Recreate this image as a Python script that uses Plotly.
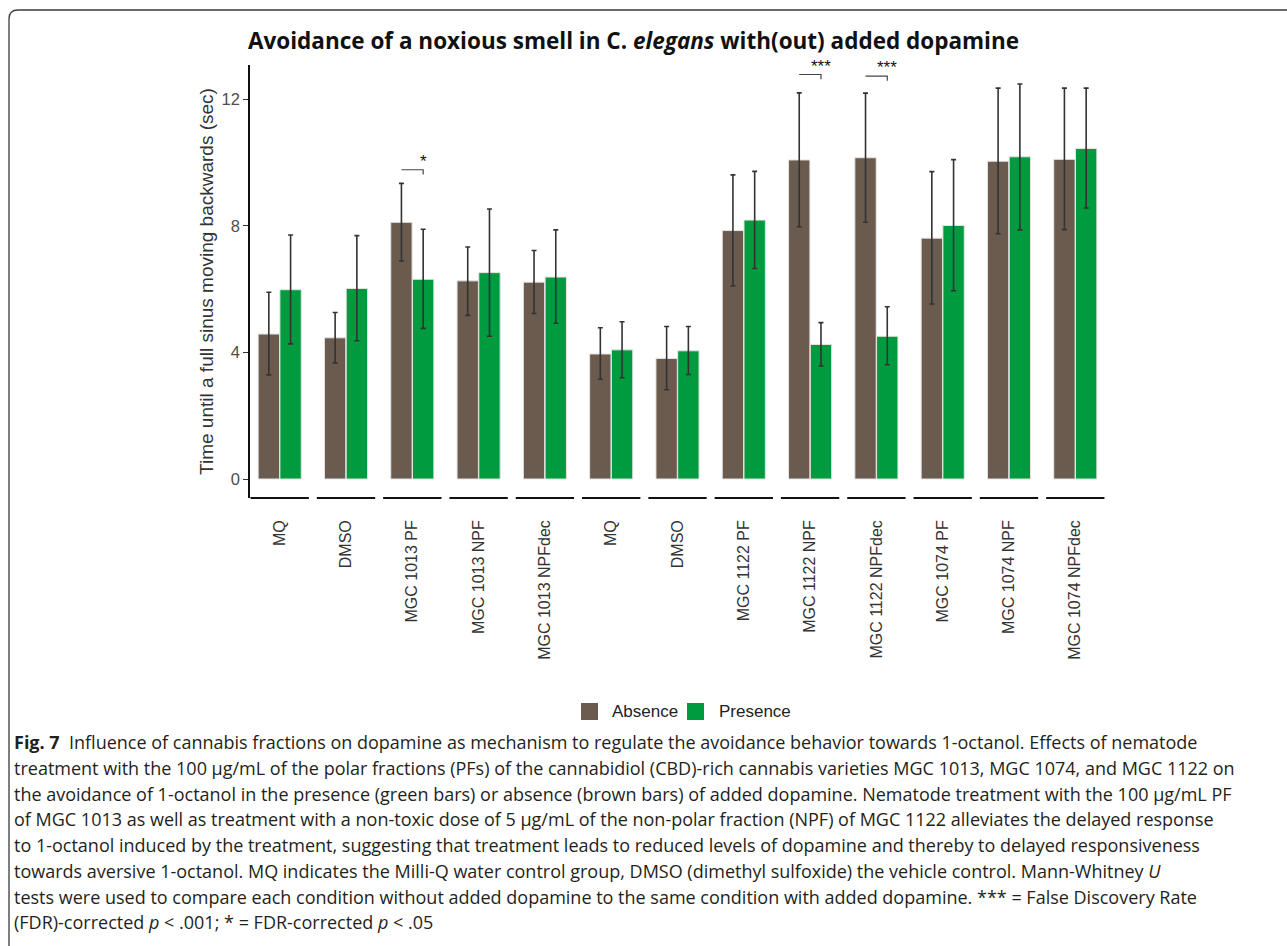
import numpy as np
import plotly.graph_objects as go

# ---- data -------------------------------------------------------------
categories = ["MQ", "DMSO", "MGC 1013 PF", "MGC 1013 NPF", "MGC 1013 NPFdec",
              "MQ", "DMSO", "MGC 1122 PF", "MGC 1122 NPF", "MGC 1122 NPFdec",
              "MGC 1074 PF", "MGC 1074 NPF", "MGC 1074 NPFdec"]

absence_mean = [4.58, 4.46, 8.11, 6.26, 6.22, 3.95, 3.81, 7.85, 10.08, 10.15, 7.61, 10.04, 10.10]
absence_upper = [5.90, 5.26, 9.34, 7.33, 7.22, 4.78, 4.82, 9.61, 12.20, 12.19, 9.71, 12.35, 12.35]
absence_lower = [3.29, 3.67, 6.89, 5.17, 5.23, 3.15, 2.82, 6.10, 7.97, 8.11, 5.53, 7.75, 7.88]

presence_mean = [5.98, 6.02, 6.31, 6.52, 6.38, 4.08, 4.05, 8.18, 4.25, 4.51, 8.01, 10.18, 10.44]
presence_upper = [7.71, 7.69, 7.89, 8.53, 7.87, 4.97, 4.82, 9.72, 4.94, 5.44, 10.09, 12.48, 12.35]
presence_lower = [4.27, 4.37, 4.76, 4.51, 4.92, 3.20, 3.30, 6.65, 3.57, 3.61, 5.95, 7.87, 8.56]

# significance brackets: group index, bracket height, label
sig_groups = [2, 8, 9]
sig_heights = [9.77, 12.78, 12.73]
sig_labels = ["*", "***", "***"]

y_ticks = [0, 4, 8, 12]

caption_lines = [
    "<b>Fig. 7</b>\u00a0\u00a0Influence of cannabis fractions on dopamine as mechanism to regulate the avoidance behavior towards 1-octanol. Effects of nematode",
    "treatment with the 100 µg/mL of the polar fractions (PFs) of the cannabidiol (CBD)-rich cannabis varieties MGC 1013, MGC 1074, and MGC 1122 on",
    "the avoidance of 1-octanol in the presence (green bars) or absence (brown bars) of added dopamine. Nematode treatment with the 100 µg/mL PF",
    "of MGC 1013 as well as treatment with a non-toxic dose of 5 µg/mL of the non-polar fraction (NPF) of MGC 1122 alleviates the delayed response",
    "to 1-octanol induced by the treatment, suggesting that treatment leads to reduced levels of dopamine and thereby to delayed responsiveness",
    "towards aversive 1-octanol. MQ indicates the Milli-Q water control group, DMSO (dimethyl sulfoxide) the vehicle control. Mann-Whitney <i>U</i>",
    "tests were used to compare each condition without added dopamine to the same condition with added dopamine. *** = False Discovery Rate",
    "(FDR)-corrected <i>p</i> &lt; .001; * = FDR-corrected <i>p</i> &lt; .05",
]

# ---- styling ----------------------------------------------------------
BROWN = "#6b5b4e"
GREEN = "#009b3e"
AXIS_FONT = "Liberation Sans, Arial, sans-serif"
TEXT_FONT = "Open Sans, Lato, sans-serif"

W, H = 1287, 946
L, R, T, B = 250, 182, 65, 448
PW, PH = W - L - R, H - T - B


def px_x(px):
    return (px - L) / PW


def px_y(py):
    return (H - B - py) / PH


x = np.arange(len(categories))
x_range = [-0.448, len(categories) - 1 + 0.448]
BAR_W = 0.322

a_mean = np.array(absence_mean)
p_mean = np.array(presence_mean)

fig = go.Figure()
fig.add_trace(go.Bar(
    x=x, y=a_mean, name="Absence", width=BAR_W, offset=-0.325,
    marker=dict(color=BROWN, line=dict(color="#e4e4e4", width=1)),
    error_y=dict(type="data", symmetric=False,
                 array=np.array(absence_upper) - a_mean,
                 arrayminus=a_mean - np.array(absence_lower),
                 color="#333333", thickness=1.6, width=2.5),
    showlegend=False,
))
fig.add_trace(go.Bar(
    x=x, y=p_mean, name="Presence", width=BAR_W, offset=0.003,
    marker=dict(color=GREEN, line=dict(color="#e4e4e4", width=1)),
    error_y=dict(type="data", symmetric=False,
                 array=np.array(presence_upper) - p_mean,
                 arrayminus=p_mean - np.array(presence_lower),
                 color="#333333", thickness=1.6, width=2.5),
    showlegend=False,
))

shapes = []
annotations = []

# segmented x axis line, one piece per category
for i in x:
    x0 = max(i - 0.44, x_range[0])
    x1 = min(i + 0.44, x_range[1])
    shapes.append(dict(type="line", xref="x", yref="paper", x0=x0, x1=x1, y0=0, y1=0,
                       line=dict(color="#111111", width=2)))

# significance brackets
for g, h, lab in zip(sig_groups, sig_heights, sig_labels):
    xa, xb = g - 0.164, g + 0.164
    shapes.append(dict(type="path", xref="x", yref="y",
                       path=f"M {xa},{h} L {xb},{h} L {xb},{h - 0.15}",
                       line=dict(color="#444444", width=1.2)))
    annotations.append(dict(x=xb, y=h, xref="x", yref="y", text=lab, showarrow=False,
                            xanchor="center", yanchor="bottom", yshift=-3,
                            font=dict(family=AXIS_FONT, size=17, color="#111111")))

# chart title
annotations.append(dict(
    x=px_x(633.5), y=px_y(40), xref="paper", yref="paper", showarrow=False,
    xanchor="center", yanchor="middle",
    text="Avoidance of a noxious smell in C. <i>elegans</i> with(out) added dopamine",
    font=dict(family=TEXT_FONT, size=22.5, color="#111111", weight="bold"),
))

# legend drawn below the axis labels
legend_items = [("Absence", BROWN, 581, 610), ("Presence", GREEN, 687, 717)]
for label, col, sx, tx in legend_items:
    shapes.append(dict(type="rect", xref="paper", yref="paper",
                       x0=px_x(sx), x1=px_x(sx + 17), y0=px_y(703), y1=px_y(720),
                       fillcolor=col, line=dict(width=0)))
    annotations.append(dict(x=px_x(tx), y=px_y(711.5), xref="paper", yref="paper",
                            text=label, showarrow=False, xanchor="left", yanchor="middle",
                            font=dict(family=AXIS_FONT, size=17, color="#222222")))

# figure caption
line_y = [742, 768, 793.5, 819, 845, 871, 896.5, 922]
for txt, ly in zip(caption_lines, line_y):
    annotations.append(dict(x=px_x(12), y=px_y(ly), xref="paper", yref="paper",
                            text=txt, showarrow=False, xanchor="left", yanchor="middle",
                            font=dict(family=TEXT_FONT, size=18, color="#231f20")))

# rounded frame around the figure
shapes.append(dict(
    type="path", xref="paper", yref="paper",
    path=(f"M {px_x(9)},{px_y(960)} L {px_x(9)},{px_y(19)} "
          f"Q {px_x(9)},{px_y(10)} {px_x(18)},{px_y(10)} L {px_x(1300)},{px_y(10)}"),
    line=dict(color="#3a3a3a", width=1.3),
))

fig.update_layout(
    width=W, height=H,
    margin=dict(l=L, r=R, t=T, b=B, autoexpand=False),
    paper_bgcolor="white", plot_bgcolor="white",
    barmode="overlay",
    shapes=shapes, annotations=annotations,
    xaxis=dict(range=x_range, tickmode="array", tickvals=x, ticktext=categories,
               tickangle=-90, ticks="", showline=False, showgrid=False, zeroline=False,
               ticklabelstandoff=18,
               tickfont=dict(family=AXIS_FONT, size=16, color="#333333")),
    yaxis=dict(range=[-0.6, 13.08], tickmode="array", tickvals=y_ticks,
               ticks="outside", ticklen=5, tickcolor="#333333", tickwidth=1,
               showline=True, linecolor="#111111", linewidth=1.6,
               showgrid=False, zeroline=False,
               tickfont=dict(family=AXIS_FONT, size=16.5, color="#4d4d4d"),
               title=dict(text="Time until a full sinus moving backwards (sec)",
                          font=dict(family=AXIS_FONT, size=19, color="#333333"),
                          standoff=3)),
)

fig.write_html("out.html")
